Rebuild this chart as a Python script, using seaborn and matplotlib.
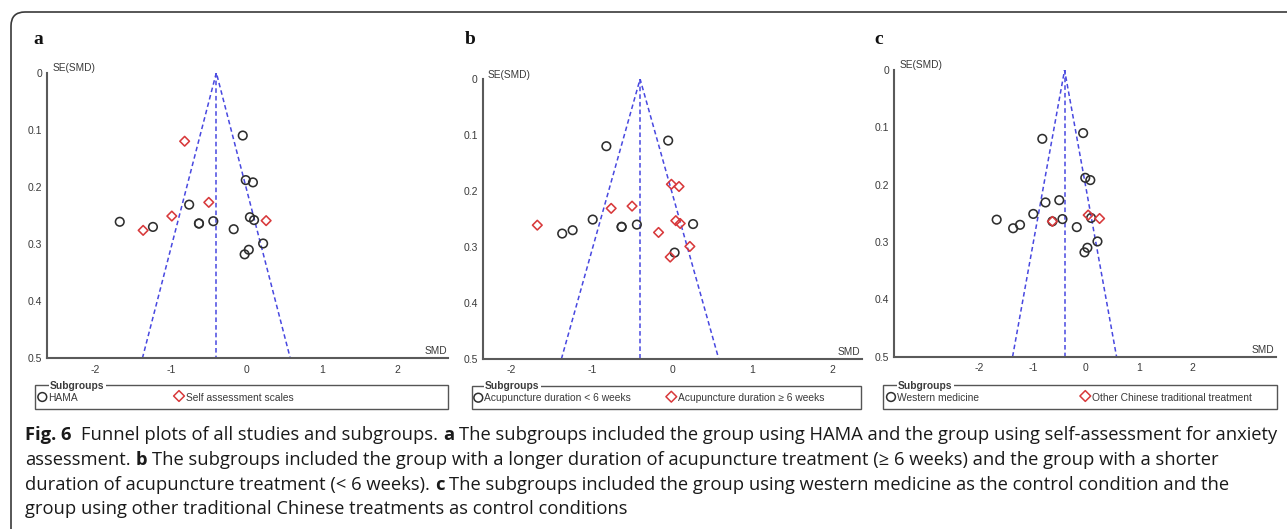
import numpy as np
import pandas as pd
import matplotlib
matplotlib.use("Agg")
import matplotlib.pyplot as plt
import seaborn as sns
from matplotlib import font_manager
from matplotlib.patches import FancyBboxPatch, Rectangle
from matplotlib.transforms import IdentityTransform

# ---------------- data ----------------
smd = [-0.05, -0.82, -0.01, 0.085, -0.76, -0.50, -0.99, -1.68, -1.37, -1.24,
       -0.63, -0.63, -0.44, -0.17, 0.045, 0.10, 0.26, 0.22, 0.03, -0.025]
se = [0.110, 0.120, 0.188, 0.192, 0.231, 0.227, 0.251, 0.261, 0.276, 0.270,
      0.264, 0.264, 0.260, 0.274, 0.253, 0.258, 0.259, 0.299, 0.310, 0.318]
# 0 = first subgroup (circle), 1 = second subgroup (diamond)
group_a = [0, 1, 0, 0, 0, 1, 1, 0, 1, 0, 0, 0, 0, 0, 0, 0, 1, 0, 0, 0]
group_b = [0, 0, 1, 1, 1, 1, 0, 1, 0, 0, 0, 0, 0, 1, 1, 1, 0, 1, 0, 1]
group_c = [0, 0, 0, 0, 0, 0, 0, 0, 0, 0, 0, 1, 0, 0, 1, 0, 1, 0, 0, 0]
labels_a = ["HAMA", "Self assessment scales"]
labels_b = ["Acupuncture duration < 6 weeks", "Acupuncture duration \u2265 6 weeks"]
labels_c = ["Western medicine", "Other Chinese traditional treatment"]
pooled_smd = -0.40
se_max = 0.5
y_ticks = [0, 0.1, 0.2, 0.3, 0.4, 0.5]
y_ticklabels = ["0", "0.1", "0.2", "0.3", "0.4", "0.5"]
x_ticks = [-2, -1, 0, 1, 2]
x_ticklabels = ["-2", "-1", "0", "1", "2"]
panel_letters = ["a", "b", "c"]

caption_lines = [
    [("Fig. 6", True), ("  ", None), ("Funnel plots of all studies and subgroups.", False), (" ", None), ("a", True), (" ", None),
     ("The subgroups included the group using HAMA and the group using self-assessment for anxiety", False)],
    [("assessment.", False), (" ", None), ("b", True), (" ", None),
     ("The subgroups included the group with a longer duration of acupuncture treatment (\u2265 6 weeks) and the group with a shorter", False)],
    [("duration of acupuncture treatment (< 6 weeks).", False), (" ", None), ("c", True), (" ", None),
     ("The subgroups included the group using western medicine as the control condition and the", False)],
    [("group using other traditional Chinese treatments as control conditions", False)],
]

# ---------------- style ----------------
sns.set_style("white")
names = {f.name for f in font_manager.fontManager.ttflist}
narrow = "Liberation Sans Narrow" if "Liberation Sans Narrow" in names else "Liberation Sans"
plt.rcParams["font.family"] = [narrow, "DejaVu Sans"]

W, H = 1287, 529
fig = plt.figure(figsize=(W / 100, H / 100), dpi=100)
fig.patch.set_facecolor("white")


def fx(x):
    return x / W


def fy(y):
    return 1 - y / H


# outer rounded frame
frame = FancyBboxPatch((11, -40), 1400, H - 12 + 40, boxstyle="round,pad=0,rounding_size=14",
                       transform=IdentityTransform(), fill=False, edgecolor="#3a3a3a", linewidth=1.2)
fig.patches.append(frame)

AX_COL = "#5a5a5a"
TXT_COL = "#3a3a3a"
CIRC_COL = "#2e2e2e"
DIAM_COL = "#d8393b"
LINE_COL = "#4848e0"

panels = [
    dict(l=47.3, r=448.0, t=72.7, b=358.3, xlim=(-2.64, 2.67), groups=group_a, labels=labels_a,
         letter=(33, 43.5), leg=(35, 448, 385, 409), leg_c=42.3, leg_d=179, title_x=50),
    dict(l=482.7, r=861.7, t=79.0, b=359.0, xlim=(-2.36, 2.36), groups=group_b, labels=labels_b,
         letter=(465, 44), leg=(471.7, 861, 385.7, 409.3), leg_c=478.3, leg_d=671.3, title_x=485),
    dict(l=894.3, r=1275.7, t=70.0, b=356.7, xlim=(-3.61, 3.58), groups=group_c, labels=labels_c,
         letter=(874, 43.5), leg=(883.3, 1276.7, 385.0, 408.5), leg_c=891, leg_d=1085.3, title_x=898),
]

for i, p in enumerate(panels):
    ax = fig.add_axes([fx(p["l"]), fy(p["b"]), fx(p["r"] - p["l"]), (p["b"] - p["t"]) / H])
    ax.set_facecolor("none")
    df = pd.DataFrame({"SMD": smd, "SE": se, "grp": p["groups"]})

    # funnel
    ax.plot([pooled_smd, pooled_smd], [0, se_max], ls=(0, (3, 2)), color=LINE_COL, lw=1.1, zorder=1)
    ax.plot([pooled_smd - 1.96 * se_max, pooled_smd, pooled_smd + 1.96 * se_max], [se_max, 0, se_max],
            ls=(0, (3, 2)), color=LINE_COL, lw=1.1, zorder=1)

    # points
    d0 = df[df["grp"] == 0]
    d1 = df[df["grp"] == 1]
    sns.scatterplot(data=d0, x="SMD", y="SE", marker="o", s=38, ax=ax, legend=False, zorder=3)
    c = ax.collections[-1]
    c.set_facecolor("none"); c.set_edgecolor(CIRC_COL); c.set_linewidth(1.15)
    sns.scatterplot(data=d1, x="SMD", y="SE", marker="D", s=24, ax=ax, legend=False, zorder=4)
    c = ax.collections[-1]
    c.set_facecolor("none"); c.set_edgecolor(DIAM_COL); c.set_linewidth(1.15)

    ax.set_xlim(*p["xlim"])
    ax.set_ylim(0.5, 0)
    ax.set_xlabel("")
    ax.set_ylabel("")
    for s in ["top", "right"]:
        ax.spines[s].set_visible(False)
    for s in ["left", "bottom"]:
        ax.spines[s].set_color(AX_COL)
        ax.spines[s].set_linewidth(1.5)
    ax.set_yticks(y_ticks)
    ax.set_yticklabels(y_ticklabels)
    ax.set_xticks(x_ticks)
    ax.set_xticklabels(x_ticklabels)
    ax.tick_params(axis="both", direction="inout", length=7, width=1.2, color=AX_COL,
                   labelcolor=TXT_COL, labelsize=7.5, pad=1)
    ax.tick_params(axis="y", length=5)

    # axis titles
    fig.text(fx(p["l"] + 5), fy(p["t"] - 1.5), "SE(SMD)", fontsize=7.3, color=TXT_COL, ha="left", va="baseline")
    fig.text(fx(p["r"] - 1), fy(p["b"] - 4), "SMD", fontsize=7.3, color=TXT_COL, ha="right", va="baseline")

    # panel letter
    fig.text(fx(p["letter"][0]), fy(p["letter"][1]), panel_letters[i], fontsize=14, fontweight="bold",
             family="Liberation Serif", ha="left", va="baseline", color="#111111")

    # legend box
    l0, l1, t0, t1 = p["leg"]
    lg = fig.add_axes([fx(l0), fy(t1), fx(l1 - l0), (t1 - t0) / H])
    lg.set_xlim(l0, l1)
    lg.set_ylim(t1, t0)
    lg.axis("off")
    lg.add_patch(Rectangle((l0, t0), l1 - l0, t1 - t0, fill=False, edgecolor="#555555", lw=1.0, clip_on=False))
    ymid = t0 + 12
    lg.scatter([p["leg_c"]], [ymid], marker="o", s=40, facecolors="none", edgecolors=CIRC_COL, linewidths=1.1, clip_on=False)
    lg.scatter([p["leg_d"]], [ymid - 1], marker="D", s=30, facecolors="none", edgecolors=DIAM_COL, linewidths=1.1, clip_on=False)
    lg.text(p["leg_c"] + 6, ymid + 3.8, p["labels"][0], fontsize=7.4, color=TXT_COL, ha="left", va="baseline")
    lg.text(p["leg_d"] + 7, ymid + 3.8, p["labels"][1], fontsize=7.4, color=TXT_COL, ha="left", va="baseline")
    lg.text(p["title_x"], t0 + 0.5, "Subgroups", fontsize=7.4, fontweight="bold", color=TXT_COL, ha="left",
            va="center", bbox=dict(facecolor="white", edgecolor="none", pad=1.0))

# ---------------- caption ----------------
fig.canvas.draw()
rend = fig.canvas.get_renderer()
cap_family = ["Open Sans", "DejaVu Sans"]


def seg_width(txt, bold, size):
    t = fig.text(0, 0, txt, fontsize=size, fontweight="bold" if bold else "normal", family=cap_family)
    w = t.get_window_extent(renderer=rend).width
    t.remove()
    return w


def space_width(size):
    return seg_width("a a", False, size) - seg_width("aa", False, size)


def line_width(segs, size):
    w = 0
    for txt, bold in segs:
        if bold is None:
            w += space_width(size) * len(txt)
        else:
            w += seg_width(txt, bold, size)
    return w


base = 10.0
target = 1274 - 25
size = base * target / line_width(caption_lines[0], base)

baselines = [440.5, 465.0, 489.5, 514.0]
for segs, yb in zip(caption_lines, baselines):
    x = 25
    for txt, bold in segs:
        if bold is None:
            x += space_width(size) * len(txt)
            continue
        fig.text(fx(x), fy(yb), txt, fontsize=size, fontweight="bold" if bold else "normal",
                 family=cap_family, color="#1a1a1a", ha="left", va="baseline")
        x += seg_width(txt, bold, size)

fig.savefig("out.png", dpi=100, facecolor="white")
